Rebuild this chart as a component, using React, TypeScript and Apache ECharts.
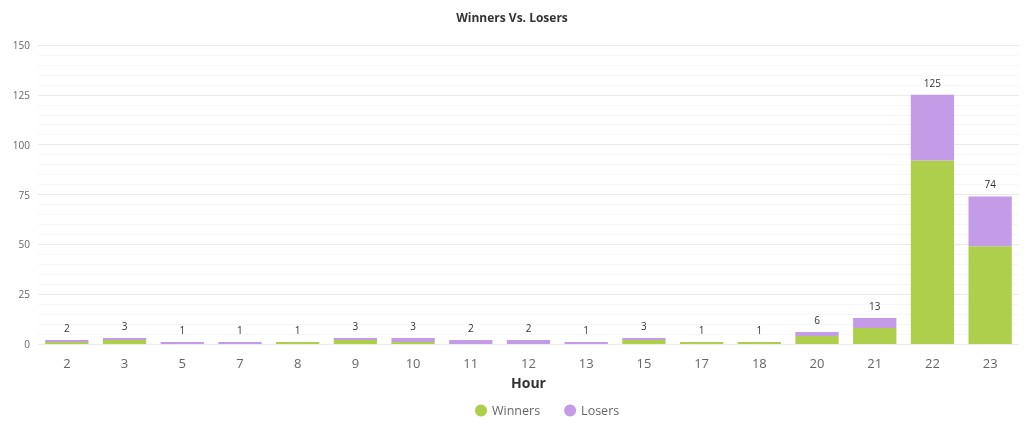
import React, { useEffect, useRef } from "react";
import * as echarts from "echarts";

const hours = ["2", "3", "5", "7", "8", "9", "10", "11", "12", "13", "15", "17", "18", "20", "21", "22", "23"];
const winners = [1, 2, 0, 0, 1, 2, 1, 0, 0, 0, 2, 1, 1, 4, 8, 92, 49];
const losers = [1, 1, 1, 1, 0, 1, 2, 2, 2, 1, 1, 0, 0, 2, 5, 33, 25];
const totals = hours.map((_, i) => winners[i] + losers[i]);
const zeros = hours.map(() => 0);

const GREEN = "#aecf4b";
const PURPLE = "#c39be6";

export default function App() {
  const ref = useRef<HTMLDivElement>(null);
  useEffect(() => {
    if (!ref.current) return;
    const chart = echarts.init(ref.current, undefined, { renderer: "svg" });
    chart.setOption({
      animation: false,
      textStyle: { fontFamily: "Open Sans" },
      title: {
        text: "Winners Vs. Losers",
        left: "center",
        top: 6,
        textStyle: { fontSize: 12, fontWeight: "bold", color: "#333", fontFamily: "Open Sans" },
      },
      legend: {
        data: ["Winners", "Losers"],
        bottom: 14,
        left: 470,
        icon: "circle",
        itemWidth: 12,
        itemHeight: 12,
        itemGap: 24,
        textStyle: { fontSize: 12.5, color: "#666" },
      },
      grid: { left: 38, right: 5, top: 45, bottom: 92 },
      xAxis: {
        type: "category",
        data: hours,
        name: "Hour",
        nameLocation: "middle",
        nameGap: 31,
        nameTextStyle: { fontSize: 14, fontWeight: "bold", color: "#333" },
        axisLine: { show: false },
        axisTick: { show: false },
        axisLabel: { fontSize: 13, color: "#666", margin: 12 },
      },
      yAxis: {
        type: "value",
        min: 0,
        max: 150,
        interval: 25,
        axisLabel: { fontSize: 10, color: "#666", margin: 8 },
        splitLine: { lineStyle: { color: "#ebebeb", width: 1 } },
        minorTick: { show: false, splitNumber: 5 },
        minorSplitLine: { show: true, lineStyle: { color: "#f7f7f7", width: 1 } },
      },
      series: [
        {
          name: "Winners",
          type: "bar",
          stack: "a",
          data: winners,
          barWidth: "75%",
          itemStyle: { color: GREEN },
        },
        {
          name: "Losers",
          type: "bar",
          stack: "a",
          data: losers,
          barWidth: "75%",
          itemStyle: { color: PURPLE },
        },
        {
          name: "Total",
          type: "bar",
          stack: "a",
          data: zeros,
          barWidth: "75%",
          itemStyle: { color: "rgba(0,0,0,0)", borderWidth: 0 },
          label: {
            show: true,
            position: "top",
            distance: 7,
            fontSize: 10,
            color: "#333",
            formatter: (p: any) => String(totals[p.dataIndex]),
          },
          tooltip: { show: false },
        },
      ],
    });
    return () => chart.dispose();
  }, []);
  return <div ref={ref} style={{ position: "fixed", left: 0, top: 0, width: 1024, height: 436 }} />;
}
